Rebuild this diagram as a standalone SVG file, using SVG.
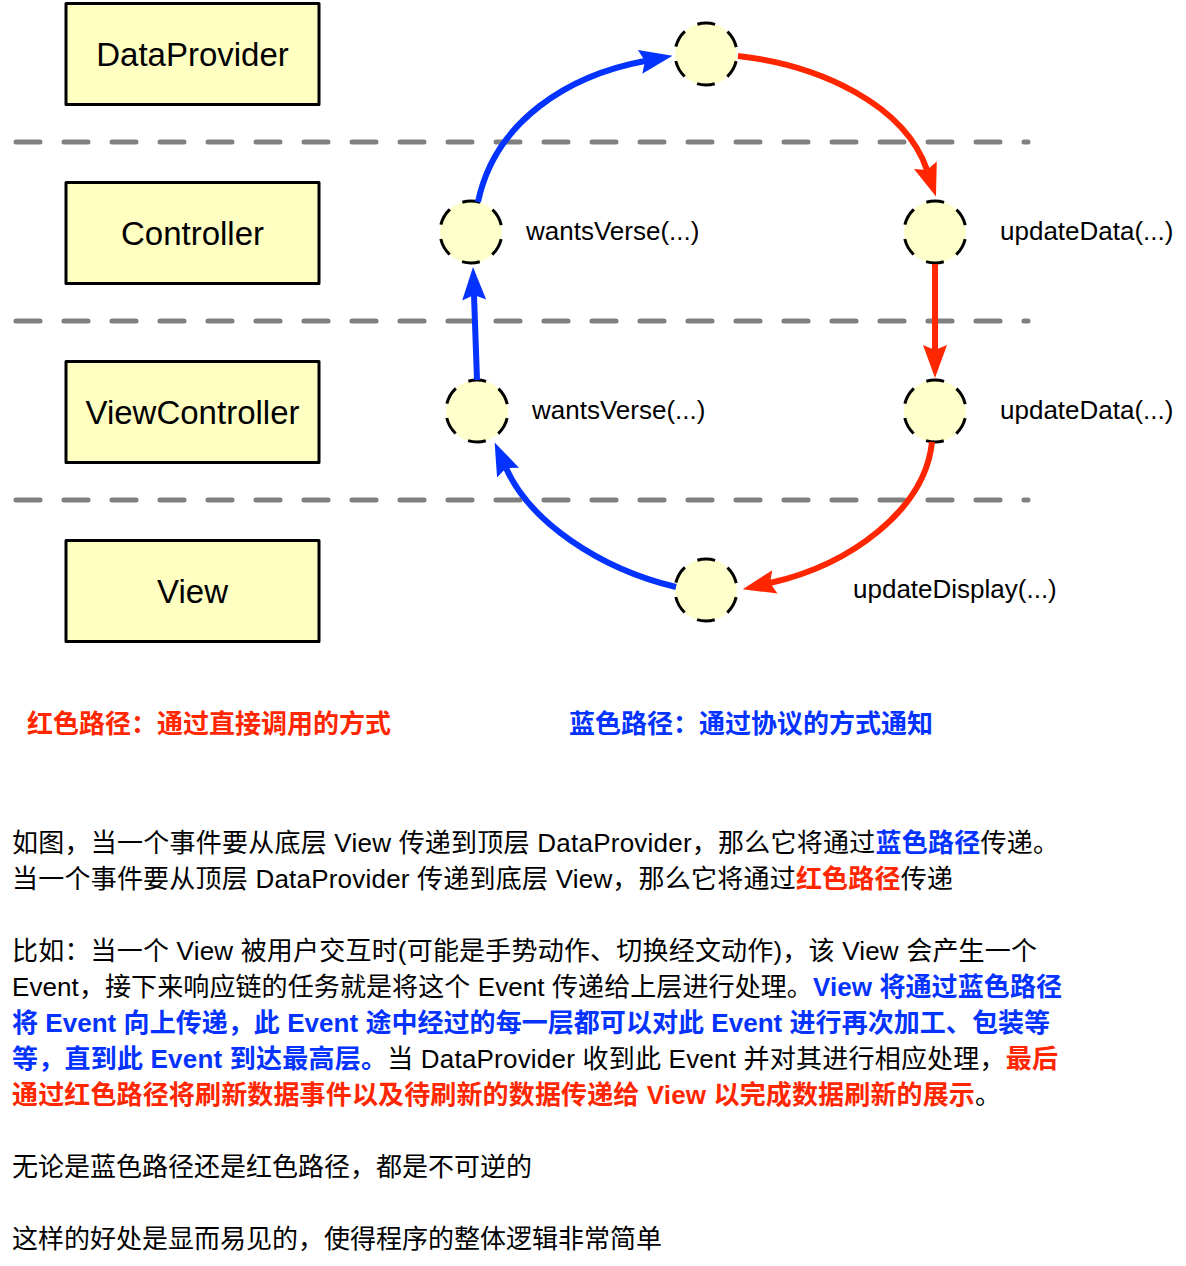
<svg xmlns="http://www.w3.org/2000/svg" width="1186" height="1266" viewBox="0 0 1186 1266">
<style>
.box{fill:#FFFFC2;stroke:#000;stroke-width:3;stroke-linejoin:round}
.node{fill:#FFFFCC;stroke:#000;stroke-width:3;stroke-dasharray:18 14.46;stroke-dashoffset:25.23}
.sep{stroke:#808080;stroke-width:5;stroke-linecap:round;stroke-dasharray:24 24;fill:none}
.bl{font-family:"Liberation Sans","Noto Sans CJK SC",sans-serif;font-size:33px;fill:#000;text-anchor:middle}
.lb{font-family:"Liberation Sans","Noto Sans CJK SC",sans-serif;font-size:26px;fill:#000}
.blue{stroke:#0433FF;stroke-width:6;fill:none}
.red{stroke:#FF2600;stroke-width:6;fill:none}
.t{font-family:"Liberation Sans","Noto Sans CJK SC",sans-serif;font-size:26px;fill:#000}
.B{fill:#0433FF;font-weight:bold}
.R{fill:#FF2600;font-weight:bold}
</style>
<defs>
<marker id="ab" markerUnits="userSpaceOnUse" markerWidth="40" markerHeight="30" refX="5" refY="0" orient="auto" overflow="visible">
<path d="M0 -12 L33 0 L0 12 L5 0 Z" fill="#0433FF"/>
</marker>
<marker id="ar" markerUnits="userSpaceOnUse" markerWidth="40" markerHeight="30" refX="5" refY="0" orient="auto" overflow="visible">
<path d="M0 -12 L33 0 L0 12 L5 0 Z" fill="#FF2600"/>
</marker>
</defs>
<rect width="1186" height="1266" fill="#fff"/>
<g id="separators">
<line class="sep" x1="16" y1="142" x2="1028" y2="142"/>
<line class="sep" x1="16" y1="321" x2="1028" y2="321"/>
<line class="sep" x1="16" y1="500" x2="1028" y2="500"/>
</g>
<g id="DataProvider"><rect class="box" x="66" y="3.5" width="253" height="101"/><text class="bl" x="192.5" y="65.5">DataProvider</text></g>
<g id="Controller"><rect class="box" x="66" y="182.5" width="253" height="101"/><text class="bl" x="192.5" y="244.5">Controller</text></g>
<g id="ViewController"><rect class="box" x="66" y="361.5" width="253" height="101"/><text class="bl" x="192.5" y="423.5">ViewController</text></g>
<g id="View"><rect class="box" x="66" y="540.5" width="253" height="101"/><text class="bl" x="192.5" y="602.5">View</text></g>
<g id="n-top"><circle class="node" cx="706" cy="54" r="31"/></g>
<g id="n-ctrl-left"><circle class="node" cx="471" cy="232" r="31"/><text class="lb" x="526" y="240">wantsVerse(...)</text></g>
<g id="n-ctrl-right"><circle class="node" cx="935" cy="232" r="31"/><text class="lb" x="1000" y="240">updateData(...)</text></g>
<g id="n-vc-left"><circle class="node" cx="477" cy="411" r="31"/><text class="lb" x="532" y="419">wantsVerse(...)</text></g>
<g id="n-vc-right"><circle class="node" cx="935" cy="411" r="31"/><text class="lb" x="1000" y="419">updateData(...)</text></g>
<g id="n-bottom"><circle class="node" cx="706" cy="590" r="31"/><text class="lb" x="853" y="598">updateDisplay(...)</text></g>
<g id="connectors">
<path class="blue" d="M676 587 C600 569 530 522 506 468" marker-end="url(#ab)"/>
<path class="blue" d="M477 380 L474 295" marker-end="url(#ab)"/>
<path class="blue" d="M478 202 C495 120 570 75 645 61" marker-end="url(#ab)"/>
<path class="red" d="M738 56 C820 65 905 105 927 170" marker-end="url(#ar)"/>
<path class="red" d="M935 264 L935 350" marker-end="url(#ar)"/>
<path class="red" d="M932 442 C925 510 850 565 770 583" marker-end="url(#ar)"/>
</g>
<g id="legend">
<text class="t" x="27" y="733"><tspan class="R">红色路径：通过直接调用的方式</tspan></text>
<text class="t" x="569" y="733"><tspan class="B">蓝色路径：通过协议的方式通知</tspan></text>
</g>
<g id="paragraphs">
<text class="t" x="12" y="852" textLength="1047">如图，当一个事件要从底层 View 传递到顶层 DataProvider，那么它将通过<tspan class="B">蓝色路径</tspan>传递。</text>
<text class="t" x="12" y="888" textLength="941">当一个事件要从顶层 DataProvider 传递到底层 View，那么它将通过<tspan class="R">红色路径</tspan>传递</text>
<text class="t" x="12" y="960" textLength="1025">比如：当一个 View 被用户交互时(可能是手势动作、切换经文动作)，该 View 会产生一个</text>
<text class="t" x="12" y="996" textLength="1050">Event，接下来响应链的任务就是将这个 Event 传递给上层进行处理。<tspan class="B">View 将通过蓝色路径</tspan></text>
<text class="t" x="12" y="1032" textLength="1038"><tspan class="B">将 Event 向上传递，此 Event 途中经过的每一层都可以对此 Event 进行再次加工、包装等</tspan></text>
<text class="t" x="12" y="1068" textLength="1046"><tspan class="B">等，直到此 Event 到达最高层。</tspan>当 DataProvider 收到此 Event 并对其进行相应处理，<tspan class="R">最后</tspan></text>
<text class="t" x="12" y="1104" textLength="989"><tspan class="R">通过红色路径将刷新数据事件以及待刷新的数据传递给 View 以完成数据刷新的展示</tspan>。</text>
<text class="t" x="12" y="1176">无论是蓝色路径还是红色路径，都是不可逆的</text>
<text class="t" x="12" y="1248">这样的好处是显而易见的，使得程序的整体逻辑非常简单</text>
</g>
</svg>
